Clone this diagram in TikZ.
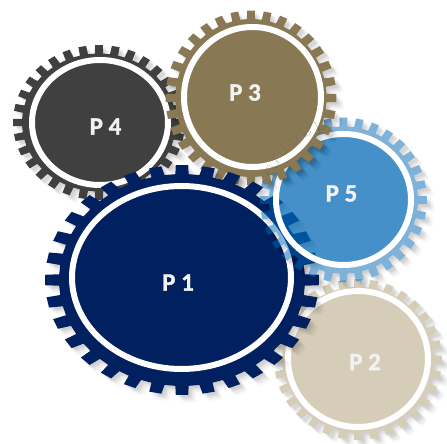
\documentclass[tikz,border=0pt]{standalone}
\usepackage{fontspec}
\setmainfont{Carlito}[BoldFeatures={FakeBold=1.2}]
\definecolor{cpone}{HTML}{002060}
\definecolor{cptwo}{HTML}{D5CDB8}
\definecolor{cpthree}{HTML}{887853}
\definecolor{cpfour}{HTML}{404040}
\definecolor{cpfive}{HTML}{0067B4}
\definecolor{txt}{HTML}{F2F2F2}
\tikzset{
  plabel/.style={text=txt,inner sep=0pt,font=\fontsize{25}{25}\selectfont\bfseries},
  ringline/.style={draw=white,line width=6pt},
}
% cx cy rxo ryo rxr ryr
\newcommand{\gearpath}[6]{%
  ({#1+#5*cos(-3.1)},{#2-#6*sin(-3.1)})
  \foreach \k in {0,...,31}{
    -- ({#1+#5*cos(\k*11.25-3.1)},{#2-#6*sin(\k*11.25-3.1)})
    -- ({#1+#3*cos(\k*11.25-2.6)},{#2-#4*sin(\k*11.25-2.6)})
    -- ({#1+#3*cos(\k*11.25+2.6)},{#2-#4*sin(\k*11.25+2.6)})
    -- ({#1+#5*cos(\k*11.25+3.1)},{#2-#6*sin(\k*11.25+3.1)})
  } -- cycle}
\newcommand{\gearshadow}[6]{%
  \foreach \s/\t/\o in {2/2/.035,3/4/.03,4/3/.03,5/5/.03,6/7/.02,7/6/.02,8/8/.015}{
    \fill[black,opacity=\o,xshift=\s pt,yshift=-\t pt] \gearpath{#1}{#2}{#3}{#4}{#5}{#6};
  }}
\newcommand{\solidgear}[7]{%
  \gearshadow{#1}{#2}{#3}{#4}{#5}{#6}
  \fill[#7] \gearpath{#1}{#2}{#3}{#4}{#5}{#6};}
\newcommand{\ringdisc}[5]{%
  \fill[#1] (#2,#3) ellipse [x radius=#4 pt-3pt,y radius=#5 pt-3pt];
  \draw[ringline] (#2,#3) ellipse [x radius=#4 pt-3pt,y radius=#5 pt-3pt];}
\newcommand{\gearthree}{%
  \solidgear{251}{98}{85.5}{87.5}{75.5}{79}{cpthree}
  \ringdisc{cpthree}{252.5}{97}{71.5}{73}}
\begin{document}
\begin{tikzpicture}[x=1pt,y=-1pt]
\useasboundingbox (0,0) rectangle (447,444);
\fill[white] (0,0) rectangle (447,444);
% P4
\solidgear{99}{122.5}{86}{77.5}{77}{69}{cpfour}
\ringdisc{cpfour}{100}{122.5}{71}{65.5}
% P2
\solidgear{358}{359.5}{84}{80.5}{75.5}{72.5}{cptwo}
\ringdisc{cptwo}{358}{359}{73}{71}
% P3
\gearthree
% P1
\solidgear{182}{280}{137}{115}{123}{106}{cpone}
\ringdisc{cpone}{181.5}{277.5}{112.5}{94.5}
% P5 (translucent): its shadow falls only outside its own gear
\begin{scope}[even odd rule]
\clip (0,0) rectangle (447,444) \gearpath{343.5}{200}{83.5}{82.5}{74.5}{73.5};
\gearshadow{343.5}{200}{83.5}{82.5}{74.5}{73.5}
\end{scope}
\fill[cpfive,opacity=.5,even odd rule] \gearpath{343.5}{200}{83.5}{82.5}{74.5}{73.5}
   (343.5,199.5) ellipse [x radius=68pt,y radius=66pt];
\fill[cpfive,opacity=.73] (343.5,199.5) ellipse [x radius=67.5pt,y radius=65.5pt];
\draw[ringline] (343.5,199.5) ellipse [x radius=67.5pt,y radius=65.5pt];
% P3 again, in front of P5
\begin{scope}
\clip \gearpath{343.5}{200}{83.5}{82.5}{74.5}{73.5};
\gearthree
\end{scope}
\node[plabel] (p4) at (105.5,126.5) {P 4};
\node[plabel] (p3) at (245,92.5) {P 3};
\node[plabel] (p5) at (341.5,193.5) {P 5};
\node[plabel] (p1) at (178,282.5) {P 1};
\node[plabel] (p2) at (365,362) {P 2};
\end{tikzpicture}
\end{document}
